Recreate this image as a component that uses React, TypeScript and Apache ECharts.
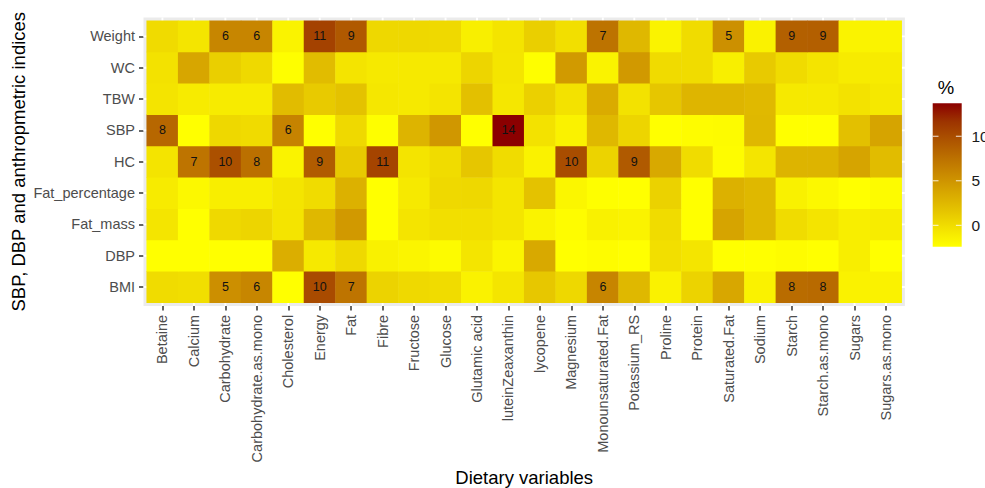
import React, { useEffect, useRef } from "react";
import * as echarts from "echarts";

const dietaryVariables = [
  "Betaine", "Calcium", "Carbohydrate", "Carbohydrate.as.mono", "Cholesterol", "Energy",
  "Fat", "Fibre", "Fructose", "Glucose", "Glutamic acid", "luteinZeaxanthin", "lycopene",
  "Magnesium", "Monounsaturated.Fat", "Potassium_RS", "Proline", "Protein", "Saturated.Fat",
  "Sodium", "Starch", "Starch.as.mono", "Sugars", "Sugars.as.mono",
];

// bottom to top
const indices = ["BMI", "DBP", "Fat_mass", "Fat_percentage", "HC", "SBP", "TBW", "WC", "Weight"];

const bmi = [0.0, -0.1, 5.4, 6.0, -2.4, 10.1, 7.3, 0.6, 0.2, 0.0, -1.5, -0.6, 1.4, 0.3, 6.1, 2.5, -1.5, 0.6, 3.7, -1.5, 7.9, 8.0, -1.5, -1.5];
const dbp = [-2.4, -2.4, -2.4, -2.4, 3.2, -0.9, 0.2, -1.4, -1.7, -2.1, -0.6, -1.7, 3.6, -2.4, -2.2, -2.4, -0.2, -0.6, -2.4, -2.4, -2.2, -2.4, -1.2, -2.4];
const fatMass = [-0.6, -2.4, 0.2, 0.5, -0.5, 2.5, 4.7, -2.4, -0.5, -0.2, -0.2, -0.6, -1.6, -2.2, -1.4, -1.6, 0.0, -2.4, 3.9, 2.5, 0.0, -0.5, -1.2, -1.1];
const fatPercentage = [-1.0, -1.9, -1.2, -1.2, -0.6, 0.0, 3.0, -2.4, -0.9, 0.2, 0.3, -0.6, 1.8, -1.8, -2.3, -2.4, 0.7, -2.4, 3.0, 2.5, -1.4, -1.9, -2.4, -2.1];
const hc = [-0.5, 7.3, 9.8, 7.6, -1.6, 9.0, 1.2, 10.6, -0.5, 0.0, 1.5, 0.0, -1.5, 10.0, 0.6, 9.1, 3.6, 0.0, -2.2, -0.6, 2.8, 2.8, 3.9, 2.2];
const sbp = [8.2, -2.4, 0.3, 0.1, 6.2, -2.4, 0.2, -2.3, 2.8, 4.8, -2.4, 13.7, -0.4, -1.5, 2.5, 0.5, -2.4, -2.2, -2.1, 2.5, -2.4, -2.4, 1.9, 3.9];
const tbw = [-0.5, -1.0, -1.0, -1.0, 2.2, 1.2, 1.8, -0.7, -0.9, -0.5, 1.9, -0.7, 0.8, -0.4, 3.4, -0.4, 1.5, 2.7, 2.7, 2.4, -0.9, -0.9, -0.4, -0.8];
const wc = [-0.4, 3.8, 0.9, 0.2, -2.3, 2.2, -0.5, -0.9, -0.9, -0.9, 0.5, -0.6, -2.3, 4.6, -1.6, 4.7, 0.1, 0.0, -1.3, 1.2, 0.1, -0.5, -1.0, -1.0];
const weight = [0.1, -0.6, 6.0, 6.1, -1.6, 10.7, 9.2, 0.3, 0.3, 0.2, -1.3, -0.5, 0.9, -0.2, 7.4, 2.5, -1.6, 0.0, 5.3, -1.5, 8.7, 8.8, -1.6, -1.6];

const rows = [bmi, dbp, fatMass, fatPercentage, hc, sbp, tbw, wc, weight];

const legendTicks = [0, 5, 10];
const VMIN = -2.4;
const VMAX = 13.7;
const LABEL_MIN = 5;

// yellow -> darkred, interpolated in Lab
const palette = ["#FFFF00", "#F3E200", "#E5C400", "#D8A800", "#CA8B00", "#BB6F00", "#AC5200", "#9C3300", "#8B0000"];

const FONT = "'Liberation Sans', Arial, Helvetica, sans-serif";

export default function App() {
  const ref = useRef<HTMLDivElement>(null);

  useEffect(() => {
    if (!ref.current) return;
    const chart = echarts.init(ref.current, undefined, { renderer: "svg" });

    const data: [number, number, number][] = [];
    rows.forEach((row, yi) => row.forEach((v, xi) => data.push([xi, yi, v])));

    const gridLeft = 146.7;
    const gridTop = 20.7;
    const gridW = 755;
    const gridH = 282;
    const pad = 3.2;

    chart.setOption({
      animation: false,
      backgroundColor: "#FFFFFF",
      grid: { left: gridLeft, top: gridTop, width: gridW, height: gridH, containLabel: false },
      xAxis: {
        type: "category",
        data: dietaryVariables,
        position: "bottom",
        offset: pad,
        axisLine: { show: false },
        axisTick: { show: true, alignWithLabel: true, length: 4.5, lineStyle: { color: "#333333", width: 1.5 } },
        axisLabel: { interval: 0, rotate: 90, margin: 9, fontSize: 14.5, color: "#4D4D4D", fontFamily: FONT },
        splitLine: { show: false },
      },
      yAxis: {
        type: "category",
        data: indices,
        offset: pad,
        axisLine: { show: false },
        axisTick: { show: true, alignWithLabel: true, length: 4.5, lineStyle: { color: "#333333", width: 1.5 } },
        axisLabel: { interval: 0, margin: 8.5, fontSize: 14.5, color: "#4D4D4D", fontFamily: FONT },
        splitLine: { show: false },
      },
      visualMap: {
        show: false,
        type: "continuous",
        min: VMIN,
        max: VMAX,
        dimension: 2,
        inRange: { color: palette },
      },
      series: [
        {
          type: "heatmap",
          data,
          z: 2,
          itemStyle: { borderWidth: 0 },
          emphasis: { disabled: true },
          label: {
            show: true,
            fontSize: 12.5,
            color: "#111111",
            fontFamily: FONT,
            formatter: (p: any) => (p.value[2] >= LABEL_MIN ? String(Math.round(p.value[2])) : ""),
          },
        },
      ],
    });

    const panelL = gridLeft - pad;
    const panelR = gridLeft + gridW + pad;
    const panelT = gridTop - pad;
    const panelB = gridTop + gridH + pad;

    const elements: any[] = [];
    elements.push({
      type: "rect",
      z: 0,
      shape: { x: panelL, y: panelT, width: panelR - panelL, height: panelB - panelT },
      style: { fill: "#EBEBEB" },
    });
    dietaryVariables.forEach((c) => {
      const x = chart.convertToPixel({ xAxisIndex: 0 }, c) as number;
      elements.push({
        type: "line",
        z: 1,
        shape: { x1: x, y1: panelT, x2: x, y2: panelB },
        style: { stroke: "#FFFFFF", lineWidth: 1.9 },
      });
    });
    indices.forEach((c) => {
      const y = chart.convertToPixel({ yAxisIndex: 0 }, c) as number;
      elements.push({
        type: "line",
        z: 1,
        shape: { x1: panelL, y1: y, x2: panelR, y2: y },
        style: { stroke: "#FFFFFF", lineWidth: 1.9 },
      });
    });

    // axis titles
    elements.push({
      type: "text",
      z: 5,
      x: (panelL + panelR) / 2,
      y: 477.5,
      style: { text: "Dietary variables", fontSize: 18.5, fontFamily: FONT, fill: "#000000", align: "center", verticalAlign: "middle" },
    });
    elements.push({
      type: "text",
      z: 5,
      x: 18,
      y: (panelT + panelB) / 2,
      rotation: Math.PI / 2,
      style: { text: "SBP, DBP and anthropmetric indices", fontSize: 18.5, fontFamily: FONT, fill: "#000000", align: "center", verticalAlign: "middle" },
    });

    // colour bar legend
    const barX = 932.7;
    const barW = 29;
    const barTop = 103.3;
    const barBottom = 246.7;
    const yOf = (v: number) => barBottom - ((v - VMIN) / (VMAX - VMIN)) * (barBottom - barTop);
    elements.push({
      type: "text",
      z: 5,
      x: 946,
      y: 87,
      style: { text: "%", fontSize: 18.5, fontFamily: FONT, fill: "#000000", align: "center", verticalAlign: "middle" },
    });
    elements.push({
      type: "rect",
      z: 5,
      shape: { x: barX, y: barTop, width: barW, height: barBottom - barTop },
      style: {
        fill: {
          type: "linear",
          x: 0, y: 1, x2: 0, y2: 0,
          colorStops: palette.map((c, i) => ({ offset: i / (palette.length - 1), color: c })),
          global: false,
        },
      },
    });
    legendTicks.forEach((t) => {
      const y = yOf(t);
      elements.push({
        type: "line", z: 6,
        shape: { x1: barX, y1: y, x2: barX + barW * 0.2, y2: y },
        style: { stroke: "rgba(255,255,255,0.85)", lineWidth: 1 },
      });
      elements.push({
        type: "line", z: 6,
        shape: { x1: barX + barW * 0.8, y1: y, x2: barX + barW, y2: y },
        style: { stroke: "rgba(255,255,255,0.85)", lineWidth: 1 },
      });
      elements.push({
        type: "text", z: 6,
        x: 971.5, y,
        style: { text: String(t), fontSize: 15.5, fontFamily: FONT, fill: "#1A1A1A", align: "left", verticalAlign: "middle" },
      });
    });

    chart.setOption({ graphic: { elements } });

    return () => chart.dispose();
  }, []);

  return (
    <div
      ref={ref}
      style={{ position: "absolute", left: 0, top: 0, width: 985, height: 488, background: "#fff" }}
    />
  );
}
